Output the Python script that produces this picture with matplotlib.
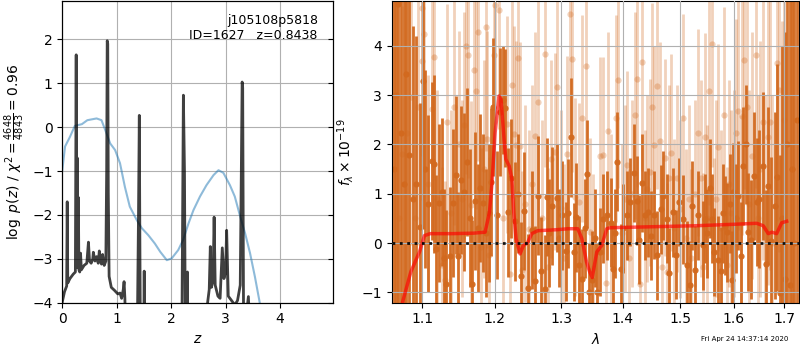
import numpy as np
import matplotlib
matplotlib.use("Agg")
import matplotlib.pyplot as plt
from matplotlib.ticker import FixedLocator, NullLocator, FixedFormatter

# ---------------- left panel: p(z) ----------------
z_pz = [0.00, 0.04, 0.08, 0.09, 0.10, 0.14, 0.20, 0.24, 0.255, 0.265, 0.275, 0.285,
        0.295, 0.305, 0.32, 0.335, 0.35, 0.40, 0.45, 0.48, 0.50, 0.53, 0.56, 0.57,
        0.60, 0.63, 0.66, 0.68, 0.70, 0.72, 0.74, 0.77, 0.80, 0.815, 0.825, 0.835,
        0.845, 0.86, 0.90, 0.96, 1.02, 1.06, 1.09, 1.12, 1.135, 1.15, 1.16, 1.30,
        1.38, 1.40, 1.415, 1.425, 1.44, 1.49, 1.505, 1.52, 2.18, 2.20, 2.225, 2.245,
        2.26, 2.29, 2.30, 2.31, 2.65, 2.67, 2.70, 2.72, 2.74, 2.77, 2.79, 2.81, 2.86,
        2.90, 2.94, 2.97, 3.00, 3.02, 3.05, 3.11, 3.17, 3.22, 3.27, 3.29, 3.305,
        3.315, 3.33, 3.38, 3.42, 3.44, 3.50, 5.00]
log_pz = [-3.98, -3.75, -3.62, -1.70, -3.55, -3.45, -3.35, -3.30, 1.65, -3.20, -0.70,
          -3.20, -1.60, -3.25, -3.30, -2.87, -3.25, -3.15, -3.10, -2.62, -3.05, -3.10,
          -3.00, -2.85, -3.05, -2.95, -3.10, -2.82, -3.05, -3.12, -2.90, -3.15, -3.05,
          -1.00, 1.97, 1.90, -1.50, -3.40, -3.65, -3.72, -3.80, -3.78, -3.90, -3.70,
          -3.52, -3.90, -4.50, -6.00, -4.50, -2.00, 0.27, -2.50, -6.00, -6.00, -3.28,
          -6.00, -6.00, -4.20, 0.73, -1.00, -4.50, -6.00, -3.30, -6.00, -6.00, -4.00,
          -3.70, -2.72, -3.65, -3.50, -2.05, -3.60, -3.85, -3.90, -2.75, -3.45, -3.30,
          -2.35, -3.85, -3.95, -4.05, -3.95, -3.60, -1.00, 1.03, 0.90, -4.10, -4.30,
          -3.86, -4.50, -6.00, -6.00]

z_chi2 = [0.00, 0.05, 0.14, 0.23, 0.36, 0.46, 0.63, 0.72, 0.80, 0.88, 0.97, 1.06,
          1.15, 1.24, 1.37, 1.46, 1.58, 1.70, 1.80, 1.92, 2.01, 2.13, 2.22, 2.32,
          2.41, 2.53, 2.65, 2.78, 2.87, 2.96, 3.08, 3.17, 3.27, 3.36, 3.45, 3.54,
          3.63, 3.70]
chi2_scaled = [-0.98, -0.44, -0.22, 0.03, 0.07, 0.16, 0.20, 0.16, -0.10, -0.37,
               -0.52, -0.82, -1.36, -1.81, -2.12, -2.30, -2.46, -2.65, -2.84, -3.03,
               -2.99, -2.80, -2.57, -2.19, -1.89, -1.58, -1.32, -1.09, -0.98, -1.04,
               -1.32, -1.58, -2.04, -2.42, -2.87, -3.41, -4.01, -4.60]

# ---------------- right panel: spectrum ----------------
lam_a = [1.0625, 1.0660, 1.0687, 1.0722, 1.0755, 1.0786, 1.0829, 1.0870, 1.0915,
         1.0970, 1.1013, 1.1036, 1.1080, 1.1125, 1.1160, 1.1183, 1.1227, 1.1260,
         1.1290, 1.1314, 1.1373, 1.1418, 1.1451, 1.1487, 1.1524, 1.1561, 1.1608,
         1.1645, 1.1682, 1.1724, 1.1760, 1.1791, 1.1829, 1.1870, 1.1910, 1.1952,
         1.1976, 1.2030, 1.2077, 1.2115, 1.2150, 1.2198, 1.2238, 1.2297, 1.2340,
         1.2386, 1.2431, 1.2486, 1.2546, 1.2596, 1.2647, 1.2683, 1.2749, 1.2775,
         1.2815, 1.2853, 1.2930, 1.2970, 1.3008, 1.3070, 1.3110, 1.3154, 1.3202,
         1.3234, 1.3287, 1.3325, 1.3370, 1.3414, 1.3442, 1.3486, 1.3530, 1.3567,
         1.3621, 1.3675, 1.3731, 1.3797, 1.3830, 1.3870, 1.3907, 1.3964, 1.4010,
         1.4066, 1.4122, 1.4189, 1.4235, 1.4280, 1.4331, 1.4378, 1.4435, 1.4477,
         1.4535, 1.4582, 1.4653, 1.4699, 1.4769, 1.4805, 1.4865, 1.4924, 1.4984,
         1.5056, 1.5117, 1.5177, 1.5209, 1.5270, 1.5331, 1.5412, 1.5455, 1.5500,
         1.5547, 1.5590, 1.5622, 1.5703, 1.5748, 1.5790, 1.5830, 1.5874, 1.5920,
         1.5958, 1.5989, 1.6040, 1.6085, 1.6132, 1.6182, 1.6235, 1.6280, 1.6333,
         1.6391, 1.6444, 1.6496, 1.6563, 1.6629, 1.6675, 1.6723, 1.6809, 1.6843,
         1.6911, 1.6960, 1.7012, 1.7060, 1.7114, 1.7160, 1.7210, 1.7260]
flux_a = [1.50, 3.00, 4.85, 2.24, 1.20, 3.43, 1.78, 0.90, 1.20, 0.33, 3.29, 1.50,
          0.80, 1.67, 1.60, -0.13, 0.81, 1.04, -0.31, -0.84, -0.27, 0.81, 1.38,
          -0.27, 1.27, 1.04, 1.65, 0.50, -0.84, 0.85, 0.30, 1.11, 0.81, 0.20, 0.60,
          1.23, 2.76, 0.57, 2.65, 2.90, 2.74, 0.62, 1.31, 0.44, 1.00, -0.67, 0.65,
          -0.92, 0.27, -0.76, 0.96, -0.57, -0.94, 0.93, 0.20, 0.75, 0.91, 0.10, 0.56,
          -0.17, 0.60, 2.14, -0.18, 0.52, -0.45, -0.72, 0.30, 1.40, -0.99, -0.75,
          0.10, -0.99, -0.18, 0.49, 0.56, 0.41, -0.52, 0.20, 1.65, -0.52, 0.30, 0.56,
          0.83, 1.42, 0.86, 0.07, 1.22, 0.56, 0.62, 0.15, 0.57, -0.25, 0.68, 0.96,
          0.49, -0.60, 0.62, -0.24, 0.83, 0.48, -0.45, -0.85, 0.76, -0.55, 0.56,
          -0.05, 0.49, 0.20, 1.11, 0.49, -0.18, -0.35, -0.57, 0.60, 0.35, 0.22, 0.80,
          -0.75, 1.03, 0.50, 0.96, -0.26, 1.56, 2.00, 0.22, 0.07, 1.36, 0.83, 0.89,
          1.56, -0.42, 1.16, 0.05, 0.76, 1.33, -1.02, 0.50, -0.72, 2.00, -0.85, 1.50,
          0.00, 2.50]
err_a = [7.0, 7.0, 7.0, 6.0, 5.5, 5.0, 4.0, 3.5, 3.0, 2.5, 3.0, 2.0, 1.8, 1.6,
         1.8, 1.5, 1.6, 1.5, 1.4, 1.5, 1.4, 1.5, 1.6, 1.3, 1.5, 1.6, 1.5, 1.4, 1.3,
         1.4, 1.3, 1.5, 1.4, 1.3, 1.4, 1.5, 1.4, 1.3, 1.3, 1.1, 1.2, 1.3, 1.2, 1.2,
         1.2, 1.1, 1.2, 1.1, 1.2, 1.1, 1.2, 1.1, 1.1, 1.2, 1.1, 1.2, 1.1, 1.0, 1.1,
         1.0, 1.1, 1.2, 1.0, 1.1, 1.0, 1.0, 1.0, 1.1, 1.0, 1.0, 1.0, 1.0, 0.9, 0.9,
         0.9, 0.9, 0.9, 0.9, 1.0, 0.9, 0.9, 0.9, 0.9, 1.0, 0.9, 0.9, 1.0, 0.9, 0.9,
         0.9, 0.9, 0.9, 0.9, 0.9, 0.9, 0.9, 0.9, 0.9, 0.9, 0.9, 0.9, 0.9, 0.9, 0.9,
         0.9, 0.9, 0.9, 0.9, 1.0, 0.9, 0.9, 0.9, 0.9, 1.0, 1.0, 1.0, 1.0, 1.0, 1.0,
         1.1, 1.1, 1.1, 1.2, 1.2, 1.2, 1.2, 1.3, 1.3, 1.4, 1.5, 1.5, 1.6, 1.7, 1.9,
         2.3, 2.8, 3.5, 5.0, 6.0, 7.0, 8.0, 8.0, 8.0]

lam_b = [1.0630, 1.0700, 1.0729, 1.0803, 1.0848, 1.0904, 1.0947, 1.0992, 1.1000,
         1.1026, 1.1080, 1.1132, 1.1155, 1.1200, 1.1260, 1.1300, 1.1332, 1.1380,
         1.1426, 1.1489, 1.1530, 1.1565, 1.1593, 1.1625, 1.1667, 1.1697, 1.1730,
         1.1766, 1.1800, 1.1840, 1.1868, 1.1890, 1.1920, 1.1988, 1.2006, 1.2062,
         1.2123, 1.2171, 1.2222, 1.2250, 1.2280, 1.2310, 1.2335, 1.2364, 1.2400,
         1.2450, 1.2500, 1.2550, 1.2591, 1.2637, 1.2700, 1.2749, 1.2800, 1.2843,
         1.2904, 1.2940, 1.3000, 1.3040, 1.3085, 1.3138, 1.3170, 1.3220, 1.3280,
         1.3325, 1.3393, 1.3450, 1.3500, 1.3621, 1.3675, 1.3720, 1.3758, 1.3800,
         1.3882, 1.3918, 1.3980, 1.4030, 1.4066, 1.4110, 1.4150, 1.4198, 1.4235,
         1.4290, 1.4331, 1.4380, 1.4420, 1.4468, 1.4506, 1.4535, 1.4591, 1.4636,
         1.4680, 1.4719, 1.4769, 1.4802, 1.4834, 1.4890, 1.4941, 1.5000, 1.5056,
         1.5110, 1.5150, 1.5200, 1.5260, 1.5331, 1.5380, 1.5420, 1.5460, 1.5500,
         1.5537, 1.5578, 1.5620, 1.5660, 1.5703, 1.5750, 1.5812, 1.5860, 1.5900,
         1.5950, 1.6000, 1.6045, 1.6085, 1.6130, 1.6162, 1.6203, 1.6258, 1.6300,
         1.6350, 1.6425, 1.6480, 1.6520, 1.6577, 1.6620, 1.6670, 1.6709, 1.6760,
         1.6843, 1.6889, 1.6950, 1.7000]
flux_b = [3.00, 0.50, 1.80, 2.24, 2.96, 0.50, 2.76, 3.68, 4.76, 4.23, 1.20, 2.71,
          3.77, 0.90, -0.45, -0.75, 2.45, 0.60, 2.76, 2.00, 0.90, 2.39, 4.00, 3.82,
          0.77, 3.51, 3.09, 4.27, -0.08, 1.50, 4.37, 2.10, -0.25, 3.82, 4.82, 4.72,
          0.50, 2.41, -0.62, 3.21, 2.20, 1.99, 3.75, 1.97, -0.55, 0.80, 0.29, 1.20,
          2.17, 2.86, 0.50, 3.84, -0.48, 1.70, 1.85, 3.17, 0.70, -0.30, 1.80, 4.64,
          3.73, 0.93, 0.83, 2.53, 3.58, 0.22, -0.50, 1.77, 1.78, -0.82, 2.28, 0.40,
          2.53, 3.31, 0.20, 0.90, 1.58, -0.30, 1.00, 2.59, 3.33, -0.84, 3.67, 0.50,
          1.10, 1.43, 2.76, 1.99, 3.19, 2.07, -0.48, 1.73, -0.58, 1.31, 1.83, 0.30,
          1.31, 0.69, 2.54, 0.10, 0.90, -0.30, 1.00, 2.24, 1.31, -0.48, 2.15, 0.50,
          3.08, 4.04, -0.18, 0.90, 1.94, 0.30, 2.59, -0.45, 1.20, 0.60, 1.00, 2.24,
          2.67, 0.40, 2.57, 3.70, 2.76, 0.80, 1.77, 3.82, 0.50, 1.50, 2.45, 0.30,
          2.15, 2.45, 0.00, 3.65, 3.11, 1.00, 2.50]
err_b = [4.0, 3.5, 3.0, 3.0, 3.0, 2.5, 2.8, 2.8, 3.0, 2.8, 2.2, 2.5, 2.5, 2.2,
         2.0, 2.0, 2.4, 2.1, 2.4, 2.3, 2.0, 2.3, 2.6, 2.5, 2.1, 2.5, 2.4, 2.6, 2.0,
         2.2, 2.5, 2.2, 2.0, 2.3, 2.4, 2.4, 2.0, 2.2, 2.0, 2.3, 2.2, 2.1, 2.3, 2.1,
         2.0, 2.0, 2.0, 2.0, 2.1, 2.2, 2.0, 2.3, 2.0, 2.0, 2.0, 2.2, 2.0, 1.9, 2.0,
         2.4, 2.3, 2.0, 2.0, 2.1, 2.3, 1.9, 1.9, 2.0, 2.0, 1.8, 2.0, 1.8, 2.1, 2.2,
         1.8, 1.9, 1.9, 1.8, 1.9, 2.1, 2.2, 1.8, 2.2, 1.8, 1.9, 1.9, 2.1, 2.0, 2.1,
         2.0, 1.8, 2.0, 1.8, 1.9, 2.0, 1.8, 1.9, 1.8, 2.1, 1.8, 1.9, 1.8, 1.9, 2.1,
         2.0, 1.9, 2.1, 1.9, 2.3, 2.5, 1.9, 2.0, 2.1, 2.0, 2.2, 2.0, 2.1, 2.1, 2.1,
         2.3, 2.4, 2.2, 2.4, 2.6, 2.5, 2.3, 2.5, 2.7, 2.5, 2.6, 2.8, 2.7, 3.0, 3.0,
         3.0, 3.2, 3.3, 3.5, 4.0]

lam_model = [1.0700, 1.0741, 1.0848, 1.0904, 1.0961, 1.1026, 1.1102, 1.1400, 1.1700,
             1.1861, 1.1923, 1.1957, 1.2005, 1.2062, 1.2091, 1.2135, 1.2160, 1.2210,
             1.2249, 1.2277, 1.2311, 1.2371, 1.2420, 1.2480, 1.2546, 1.2637, 1.2930,
             1.3110, 1.3260, 1.3325, 1.3400, 1.3450, 1.3493, 1.3567, 1.3648, 1.3731,
             1.3785, 1.4500, 1.5270, 1.6000, 1.6445, 1.6576, 1.6676, 1.6750, 1.6845,
             1.6947, 1.7049]
flux_model = [-1.60, -1.19, -0.58, -0.38, -0.18, 0.15, 0.19, 0.19, 0.20, 0.22, 0.62,
              1.16, 2.24, 2.98, 2.91, 2.10, 1.70, 1.56, 1.30, 0.62, 0.09, -0.22,
              -0.05, 0.00, 0.19, 0.25, 0.27, 0.29, 0.29, 0.09, -0.38, -0.58, -0.70,
              -0.18, -0.05, 0.29, 0.31, 0.33, 0.35, 0.38, 0.40, 0.35, 0.19, 0.22,
              0.19, 0.41, 0.44]

wave_ticks = [1.1, 1.2, 1.3, 1.4, 1.5, 1.6, 1.7]
wave_labels = ["1.1", "1.2", "1.3", "1.4", "1.5", "1.6", "1.7"]

fig = plt.figure(figsize=(8, 3.5), dpi=100)

# left panel
ax1 = fig.add_axes([0.0779, 0.1351, 0.3387, 0.8612])
ax1.plot(z_chi2, chi2_scaled, color='tab:blue', alpha=0.5, lw=1.5)
ax1.plot(z_pz, log_pz, color='k', alpha=0.75, lw=2)
ax1.set_xlim(0, 4.98)
ax1.set_ylim(-4, 2.87)
ax1.set_yticks([-4, -3, -2, -1, 0, 1, 2])
ax1.set_xticks([0, 1, 2, 3, 4])
ax1.grid(True)
ax1.set_xlabel(r'$z$')
ax1.set_ylabel(r'$\log\ p(z)$' + ' / ' + r'$\chi^2=\frac{4648}{4843}=0.96$')
ax1.text(0.943, 0.958, 'j105108p5818\nID=1627   z=0.8438', transform=ax1.transAxes,
         ha='right', va='top', fontsize=9)
tw = ax1.twinx()
tw.set_ylim(ax1.get_ylim())
tw.set_yticks([-4, -3, -2, -1, 0, 1, 2])
tw.tick_params(direction='in', labelright=False)

# right panel
ax2 = fig.add_axes([0.4896, 0.1351, 0.5095, 0.8612])
ax2.set_xscale('log')
col = '#d2691e'
ax2.errorbar(lam_b, flux_b, yerr=err_b, fmt='o', color=col, alpha=0.3, ms=4.5,
             elinewidth=2.0, mew=0, zorder=1)
ax2.errorbar(lam_a, flux_a, yerr=err_a, fmt='o', color=col, alpha=0.95, ms=4.5,
             elinewidth=2.0, mew=0, zorder=1.5)
ax2.set_axisbelow(False)
ax2.plot(lam_model, flux_model, color='red', alpha=0.65, lw=2.5, zorder=4)
ax2.axhline(0, color='k', ls=':', lw=2.0, alpha=0.9, zorder=5)
ax2.set_xlim(1.060, 1.731)
ax2.set_ylim(-1.21, 4.9)
ax2.xaxis.set_major_locator(FixedLocator(wave_ticks))
ax2.xaxis.set_major_formatter(FixedFormatter(wave_labels))
ax2.xaxis.set_minor_locator(NullLocator())
ax2.set_yticks([-1, 0, 1, 2, 3, 4])
ax2.grid(True, zorder=2)
ax2.set_xlabel(r'$\lambda$')
ax2.set_ylabel(r'$f_\lambda\times10^{-19}$')

fig.text(0.985, 0.03, 'Fri Apr 24 14:37:14 2020', ha='right', va='center', fontsize=5)

fig.savefig('out.png', dpi=100)
